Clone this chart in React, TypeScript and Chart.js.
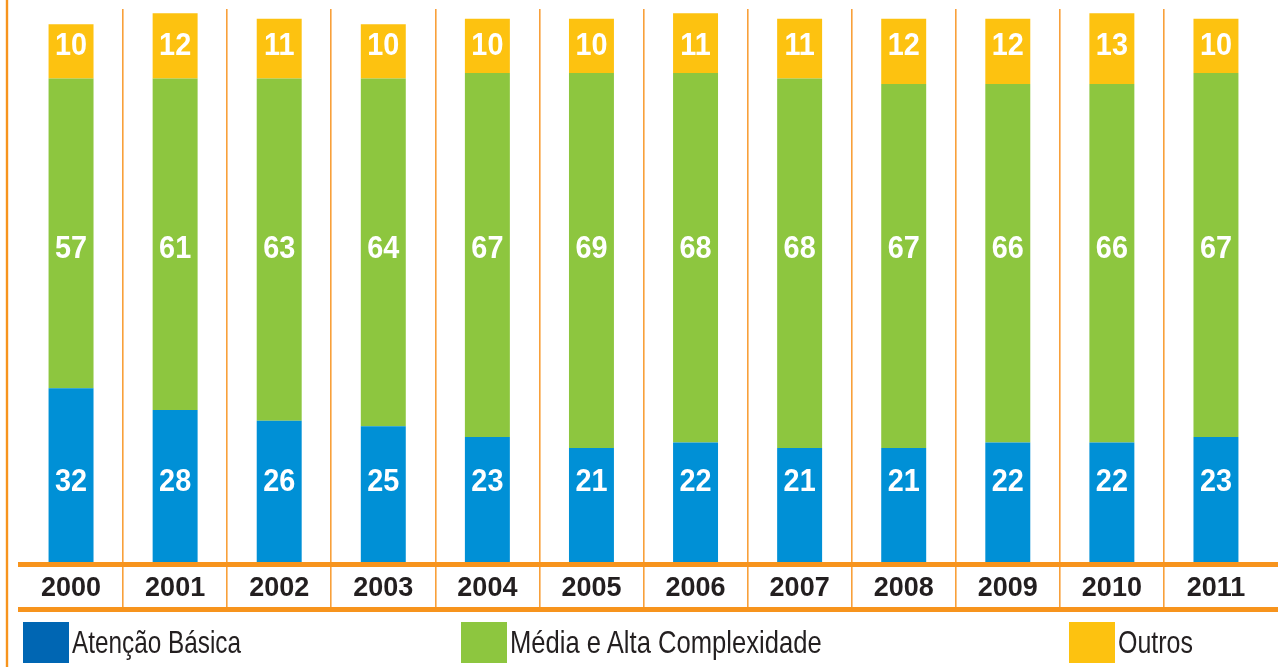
import React, { useEffect, useRef } from "react";
import { Chart, registerables } from "chart.js";

Chart.register(...registerables);

const years = ["2000", "2001", "2002", "2003", "2004", "2005", "2006", "2007", "2008", "2009", "2010", "2011"];
const atencaoBasica = [32, 28, 26, 25, 23, 21, 22, 21, 21, 22, 22, 23];
const mediaAlta = [57, 61, 63, 64, 67, 69, 68, 68, 67, 66, 66, 67];
const outros = [10, 12, 11, 10, 10, 10, 11, 11, 12, 12, 13, 10];
const seriesNames = ["Atenção Básica", "Média e Alta Complexidade", "Outros"];

const BLUE = "#0090d6";
const GREEN = "#8dc63f";
const YELLOW = "#fdc210";
const LEGEND_COLORS = ["#0066b3", GREEN, YELLOW];
const ORANGE = "#f7941d";
const GRID_ORANGE = "#f8a03a";
const TEXT = "#231f20";
const SANS = "'Liberation Sans', Arial, sans-serif";

const TICK_LEN = 45;

const decorPlugin = {
  id: "decor",
  afterDraw(chart: any) {
    const { ctx, chartArea } = chart;
    const opts = chart.options.plugins.decor;
    ctx.save();
    ctx.fillStyle = ORANGE;
    ctx.fillRect(opts.vLineX, 0, opts.vLineW, chart.height);
    ctx.fillRect(opts.hLeft, chartArea.bottom, opts.hRight - opts.hLeft, 5);
    ctx.fillRect(opts.hLeft, chartArea.bottom + TICK_LEN, opts.hRight - opts.hLeft, 5);
    ctx.restore();
  },
};

const labelPlugin = {
  id: "rowLabels",
  afterDatasetsDraw(chart: any) {
    const { ctx } = chart;
    const yScale = chart.scales.y;
    const opts = chart.options.plugins.rowLabels;
    ctx.save();
    ctx.fillStyle = "#ffffff";
    ctx.font = `bold ${opts.size}px ${SANS}`;
    ctx.textAlign = "center";
    ctx.textBaseline = "middle";
    chart.data.datasets.forEach((ds: any, di: number) => {
      const meta = chart.getDatasetMeta(di);
      const rowY = yScale.getPixelForValue(opts.rows[di]);
      meta.data.forEach((bar: any, i: number) => {
        ctx.save();
        ctx.translate(bar.x, rowY);
        ctx.scale(opts.squeeze, 1);
        ctx.fillText(String(ds.data[i]), 0, 0);
        ctx.restore();
      });
    });
    ctx.restore();
  },
};

export default function App() {
  const canvasRef = useRef<HTMLCanvasElement | null>(null);

  useEffect(() => {
    if (!canvasRef.current) return;
    const chart = new Chart(canvasRef.current, {
      type: "bar",
      data: {
        labels: years,
        datasets: [
          { label: seriesNames[0], data: atencaoBasica, backgroundColor: BLUE },
          { label: seriesNames[1], data: mediaAlta, backgroundColor: GREEN },
          { label: seriesNames[2], data: outros, backgroundColor: YELLOW },
        ],
      },
      options: {
        responsive: false,
        animation: false,
        layout: { padding: { left: 19, right: 13, top: 9, bottom: 55 } },
        datasets: {
          bar: { categoryPercentage: 1, barPercentage: 0.432, borderWidth: 0 },
        },
        scales: {
          x: {
            stacked: true,
            offset: true,
            border: { display: false },
            grid: {
              offset: true,
              drawOnChartArea: true,
              drawTicks: true,
              tickLength: TICK_LEN,
              lineWidth: 1.6,
              color: (c: any) => (c.type !== "tick" || c.index === 0 ? "rgba(0,0,0,0)" : GRID_ORANGE),
            },
            ticks: {
              color: TEXT,
              font: { family: SANS, size: 27, weight: "bold" },
              padding: -35,
              autoSkip: false,
              maxRotation: 0,
            },
            afterFit: (s: any) => {
              s.height = 50;
            },
          },
          y: {
            stacked: true,
            display: false,
            min: 0,
            max: 101.8,
          },
        },
        plugins: {
          legend: { display: false },
          tooltip: { enabled: false },
          decor: { vLineX: 5.8, vLineW: 2.4, hLeft: 18, hRight: 1278 },
          rowLabels: { size: 31, squeeze: 0.93, rows: [14.6, 57.5, 94.9] },
        } as any,
      },
      plugins: [decorPlugin, labelPlugin],
    });
    return () => chart.destroy();
  }, []);

  const legendLeft = [23, 461, 1069];
  const legendSqueeze = [0.76, 0.8, 0.78];

  return (
    <div style={{ position: "fixed", left: 0, top: 0, width: 1281, height: 667, background: "#fff" }}>
      <canvas ref={canvasRef} width={1281} height={667} style={{ display: "block", width: 1281, height: 667 }} />
      {seriesNames.map((name, i) => (
        <div
          key={name}
          style={{
            position: "absolute",
            left: legendLeft[i],
            top: 622,
            height: 41,
            display: "flex",
            alignItems: "flex-start",
            whiteSpace: "nowrap",
          }}
        >
          <div style={{ width: 46, height: 41, background: LEGEND_COLORS[i], flex: "none" }} />
          <div
            style={{
              marginLeft: 3,
              fontFamily: SANS,
              fontSize: 32,
              lineHeight: "41px",
              color: TEXT,
              transform: `scaleX(${legendSqueeze[i]})`,
              transformOrigin: "left center",
            }}
          >
            {name}
          </div>
        </div>
      ))}
    </div>
  );
}
